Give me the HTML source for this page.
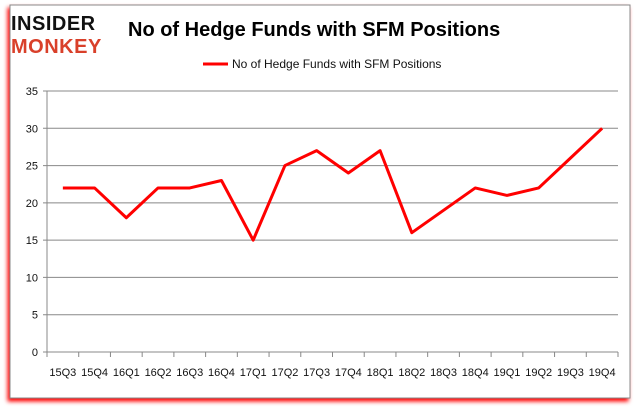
<!DOCTYPE html>
<html><head><meta charset="utf-8"><style>
body{margin:0;width:637px;height:408px;background:#fff;overflow:hidden;font-family:"Liberation Sans",sans-serif}
</style></head><body>
<svg width="637" height="408">
<rect x="10" y="5" width="620" height="393" fill="#fff" stroke="#888" style="filter:drop-shadow(-2px 3px 2px #f00)"/>
<g>
<text x="11" y="30" font-size="20" font-weight="bold" fill="#111" letter-spacing="0.5">INSIDER</text>
<text x="11" y="53" font-size="20" font-weight="bold" fill="#d9402a" letter-spacing="0.5">MONKEY</text>
</g>
<text x="128" y="36" font-size="20" font-weight="bold" fill="#000">No of Hedge Funds with SFM Positions</text>
<g>
<line x1="203" y1="64" x2="228" y2="64" stroke="#f00" stroke-width="3"/>
<text x="232" y="68" font-size="12" fill="#111">No of Hedge Funds with SFM Positions</text>
</g>
<g id="grid"></g><g id="xaxis"></g>
<polyline id="line" fill="none" stroke="#f00" stroke-width="3" stroke-linejoin="round"/>
</svg>
<script>
const categories=["15Q3","15Q4","16Q1","16Q2","16Q3","16Q4","17Q1","17Q2","17Q3","17Q4","18Q1","18Q2","18Q3","18Q4","19Q1","19Q2","19Q3","19Q4"];
const values=[22,22,18,22,22,23,15,25,27,24,27,16,19,22,21,22,26,30];
const yTicks=[0,5,10,15,20,25,30,35];
const L=47,R=618,T=91,B=352,yMax=35;
const step=(R-L)/categories.length;
const x=i=>L+step*(i+0.5);
const y=v=>B-(v/yMax)*(B-T);
const ns="http://www.w3.org/2000/svg";
const g=document.getElementById('grid'),xa=document.getElementById('xaxis');
function mk(t,a,p){const e=document.createElementNS(ns,t);for(const k in a)e.setAttribute(k,a[k]);p.appendChild(e);return e;}
yTicks.forEach(v=>{
 const l=mk('line',{x1:L-4,x2:R,y1:y(v),y2:y(v),stroke:'#888'},g);
 
 
 const t=mk('text',{x:L-9,y:y(v)+4,'font-size':11,'text-anchor':'end',fill:'#111'},g);
 t.textContent=v;
 
 
});
mk('line',{x1:L,x2:L,y1:T,y2:B,stroke:'#888'},g);
categories.forEach((c,i)=>{
 mk('line',{x1:L+step*i,x2:L+step*i,y1:B,y2:B+5,stroke:'#888'},xa);
 const t=mk('text',{x:x(i),y:B+24,'font-size':11,'text-anchor':'middle',fill:'#111'},xa);
 t.textContent=c;
 
 
});
mk('line',{x1:R,x2:R,y1:B,y2:B+5,stroke:'#888'},xa);
document.getElementById('line').setAttribute('points',values.map((v,i)=>x(i)+','+y(v)).join(' '));
</script>
</body></html>
